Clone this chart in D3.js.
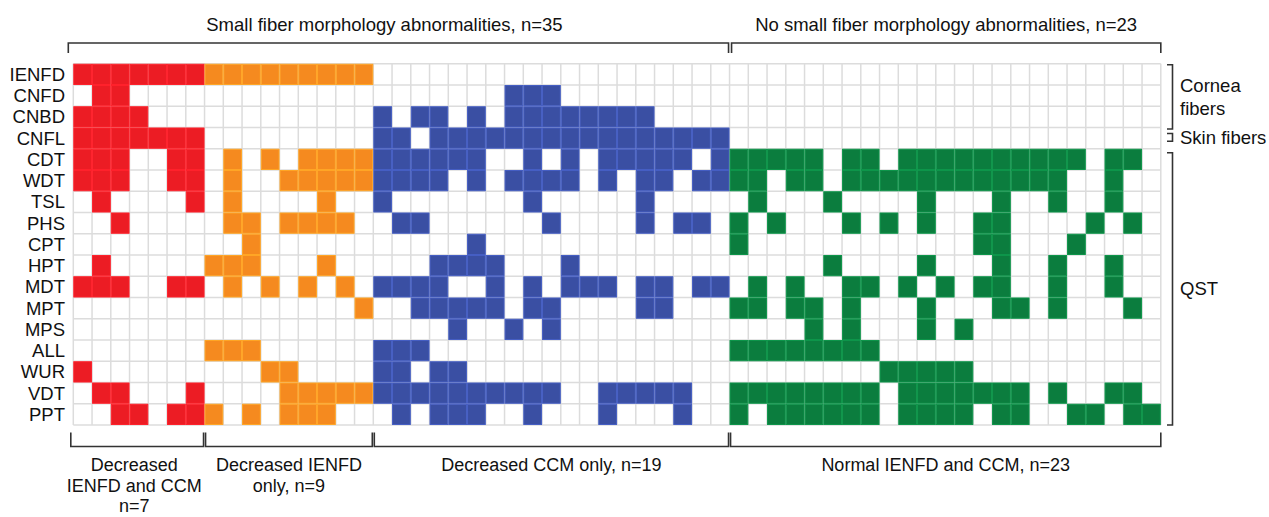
<!DOCTYPE html>
<html>
<head>
<meta charset="utf-8">
<script src="https://cdn.jsdelivr.net/npm/d3@7"></script>
<style>
  body { margin: 0; background: #fff; }
  text { font-family: "Liberation Sans", Arial, sans-serif; fill: #111; }
</style>
</head>
<body>
<script>
var w = 1269;
var h = 517;

// rows of the grid (tests)
var rows = ["IENFD", "CNFD", "CNBD", "CNFL", "CDT", "WDT", "TSL", "PHS", "CPT",
            "HPT", "MDT", "MPT", "MPS", "ALL", "WUR", "VDT", "PPT"];

// patient groups, left to right
var groupSizes = [7, 9, 19, 23];
var groupColors = ["#ec1c24", "#f58a1f", "#3a4fa3", "#0b7d3e"];
var groupLabels = [["Decreased", "IENFD and CCM", "n=7"], ["Decreased IENFD", "only, n=9"],
                   ["Decreased CCM only, n=19"], ["Normal IENFD and CCM, n=23"]];

// abnormal findings, one string per row, groups separated by a space (1 = abnormal)
var findings = [
  "1111111 111111111 0000000000000000000 00000000000000000000000",
  "0110000 000000000 0000000111000000000 00000000000000000000000",
  "1111000 000000000 1011010111111110000 00000000000000000000000",
  "1111111 000000000 1101111111111111111 00000000000000000000000",
  "1110011 010101111 1111110010101111101 11111011011111111110110",
  "1110011 010011111 1111010111101011011 11011011111111111100100",
  "0100001 010000100 1000000010000010000 01000100001000100100100",
  "0010000 011011110 0110000001000010110 10100010101001100001010",
  "0000000 001000000 0000010000000000000 10000000000001100010000",
  "0100000 111000100 0001111000100000000 00000100001000100100100",
  "1110011 010101010 1111001010111011011 01010011010101100100100",
  "0000000 000000001 0011111011000011000 11011010001000110100010",
  "0000000 000000000 0000100101000000000 00001010001010000000000",
  "0000000 111000000 1110000000000000000 11111111000000000000000",
  "1000000 000110000 1101100000000000000 00000000111110000000000",
  "0110001 000011111 1111111111001111100 11111111011111110100110",
  "0011011 101011100 0101110010001000100 10111111011110110011011"
];

// super-groups on top and row sections on the right
var topLabels = ["Small fiber morphology abnormalities, n=35", "No small fiber morphology abnormalities, n=23"];
var sideLabels = [["Cornea", "fibers"], ["Skin fibers"], ["QST"]];

var fs = 18.5;
var nCols = d3.sum(groupSizes);
var colGroup = [];
groupSizes.forEach(function (n, g) { for (var i = 0; i < n; i++) colGroup.push(g); });
var gs = Array.from(d3.cumsum([0].concat(groupSizes)));

var cells = [];
findings.forEach(function (s, r) {
  s.replace(/ /g, "").split("").forEach(function (v, c) {
    cells.push({ row: rows[r], col: c, on: v === "1" });
  });
});

var svg = d3.select("body").append("svg")
  .attr("width", w)
  .attr("height", h);

var x = d3.scaleLinear().domain([0, nCols]).range([73.3, 1160.8]);
var y = d3.scaleBand().domain(rows).range([63.75, 425]);
var cw = x(1) - x(0);

// grid
var grid = svg.append("g");
grid.selectAll(".vl").data(d3.range(nCols + 1)).enter().append("line")
  .attr("x1", function (d) { return x(d); }).attr("x2", function (d) { return x(d); })
  .attr("y1", y.range()[0]).attr("y2", y.range()[1])
  .attr("stroke", "#dcdcdc").attr("stroke-width", 1.5);
grid.selectAll(".hl").data(d3.range(rows.length + 1)).enter().append("line")
  .attr("x1", x(0)).attr("x2", x(nCols))
  .attr("y1", function (d) { return y.range()[0] + d * y.bandwidth(); })
  .attr("y2", function (d) { return y.range()[0] + d * y.bandwidth(); })
  .attr("stroke", "#dcdcdc").attr("stroke-width", 1.5);

// filled cells
svg.append("g").selectAll("rect")
  .data(cells.filter(function (d) { return d.on; }))
  .enter().append("rect")
  .attr("x", function (d) { return x(d.col) + 0.5; })
  .attr("y", function (d) { return y(d.row) + 0.5; })
  .attr("width", cw - 1)
  .attr("height", y.bandwidth() - 1)
  .attr("fill", function (d) { return groupColors[colGroup[d.col]]; })
  .attr("stroke", function (d) { return d3.color(groupColors[colGroup[d.col]]).brighter(0.5); })
  .attr("stroke-width", 1);

// row labels
svg.append("g").selectAll("text").data(rows).enter().append("text")
  .attr("x", 65)
  .attr("y", function (d) { return y(d) + y.bandwidth() / 2 + 6.5; })
  .attr("text-anchor", "end")
  .attr("font-size", fs)
  .text(function (d) { return d; });

var line = d3.line();
var br = svg.append("g").attr("fill", "none").attr("stroke", "#333").attr("stroke-width", 1.6);

// top brackets: first three groups vs the normal group
var topEnds = [[x(gs[0]) - 5, x(gs[3]) - 1], [x(gs[3]) + 2, x(gs[4])]];
topEnds.forEach(function (e, i) {
  br.append("path").attr("d", line([[e[0], 53], [e[0], 43], [e[1], 43], [e[1], 53]]));
  svg.append("text").attr("x", (e[0] + e[1]) / 2 - (i === 0 ? 14 : 0)).attr("y", 31)
    .attr("text-anchor", "middle").attr("font-size", fs).text(topLabels[i]);
});

// bottom brackets
groupSizes.forEach(function (n, g) {
  var x0 = x(gs[g]) + (g === 0 ? -2.5 : 1), x1 = x(gs[g + 1]) - (g === 3 ? 0 : 1);
  br.append("path").attr("d", line([[x0, 432.5], [x0, 446.5], [x1, 446.5], [x1, 432.5]]));
  var t = svg.append("text").attr("text-anchor", "middle").attr("font-size", 18);
  groupLabels[g].forEach(function (s, k) {
    t.append("tspan").attr("x", (x0 + x1) / 2 - (g === 0 ? 3 : 0))
      .attr("y", 471 + k * 20.5).text(s);
  });
});

// side brackets
var sideEnds = [
  [y(rows[0]) + 1, y(rows[2]) + y.bandwidth() + 1.5],
  [y(rows[3]) + 6, y(rows[3]) + y.bandwidth() - 7.5],
  [y(rows[4]) + 4, y(rows[16]) + y.bandwidth()]
];
sideEnds.forEach(function (e, i) {
  br.append("path").attr("d", line([[1167, e[0]], [1172.5, e[0]], [1172.5, e[1]], [1167, e[1]]]));
  var t = svg.append("text").attr("font-size", fs);
  var ym = (e[0] + e[1]) / 2 - (sideLabels[i].length - 1) * 11 + 6.5;
  sideLabels[i].forEach(function (s, k) {
    t.append("tspan").attr("x", 1180).attr("y", ym + k * 22.5).text(s);
  });
});
</script>
</body>
</html>
